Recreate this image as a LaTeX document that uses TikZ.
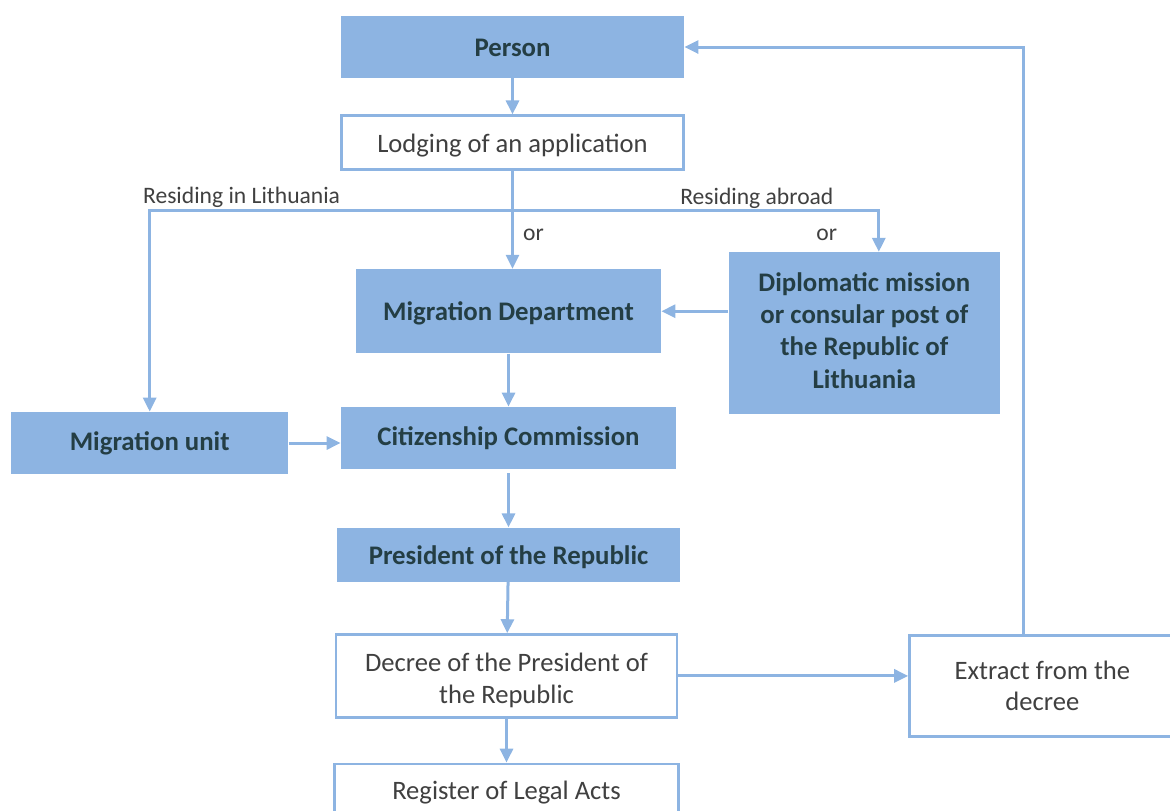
\documentclass[tikz,border=0pt]{standalone}
\usepackage{fontspec}
\setmainfont{Carlito}
\usepackage{tikz}
\usetikzlibrary{arrows.meta,positioning}
\definecolor{blu}{RGB}{141,180,226}
\definecolor{ink}{RGB}{64,64,64}
\definecolor{deep}{RGB}{36,62,68}
\tikzset{
  solid box/.style={fill=blu,draw=none,inner sep=2pt,align=center,text=deep,
    font=\fontsize{13.4}{16.2}\selectfont\bfseries},
  open box/.style={draw=blu,line width=1.2pt,fill=white,inner sep=2pt,align=center,text=ink,
    font=\fontsize{13.3}{15.8}\selectfont},
  lbl/.style={inner sep=1pt,text=ink,font=\fontsize{11.8}{14}\selectfont},
  arr/.style={-{Triangle[length=7pt,width=6.5pt]},line width=1.5pt,draw=blu},
}
\newcommand{\dn}[2]{\raisebox{-#1}[\height][\depth]{#2}}

\begin{document}
\begin{tikzpicture}[node distance=20pt]
\useasboundingbox (0,0) rectangle (585pt,-405pt);
\clip (0,0) rectangle (585pt,-405pt);
\node[solid box,minimum width=171.5pt,minimum height=31pt] (person) at (256.25pt,-23.5pt)
  {\dn{0.5pt}{Person}};
\node[open box,minimum width=171pt,minimum height=27pt,below=18pt of person] (lodging)
  {\dn{1.5pt}{Lodging of an application}};
\node[solid box,minimum width=152.5pt,minimum height=42pt,below=49pt of lodging,xshift=-2pt] (migdept)
  {\dn{1pt}{Migration Department}};
\node[solid box,minimum width=167.5pt,minimum height=31pt,below=26.5pt of migdept] (citizen)
  {\raisebox{1.5pt}{Citizenship Commission}};
\node[solid box,minimum width=138.5pt,minimum height=31pt,left=26pt of citizen,yshift=-2.5pt] (migunit)
  {Migration unit};
\node[solid box,minimum width=135.5pt,minimum height=81pt,right=33.5pt of migdept,yshift=-11pt] (dipl)
  {\begin{tabular}{@{}c@{}}Diplomatic mission\\or consular post of\\the Republic of\\Lithuania\end{tabular}};
\node[solid box,minimum width=171.5pt,minimum height=27pt,below=29pt of citizen] (president)
  {\dn{1pt}{President of the Republic}};
\node[open box,minimum width=170.5pt,minimum height=41.5pt,below=25.5pt of president,xshift=-1pt] (decree)
  {\dn{2.5pt}{\begin{tabular}{@{}c@{}}Decree of the President of\\the Republic\end{tabular}}};
\node[open box,minimum width=133pt,minimum height=50.5pt,right=115pt of decree,yshift=-5pt] (extract)
  {Extract from the\\decree};
\node[open box,minimum width=172pt,minimum height=26pt,below=22pt of decree,anchor=north] (register)
  {\dn{1.5pt}{Register of Legal Acts}};

\coordinate[below=20pt of lodging.south] (split);
\coordinate (dipin) at ([xshift=7.25pt]dipl.north);
\node[lbl,anchor=south west] (reslt) at ([xshift=-4.5pt,yshift=0.5pt]split -| migunit.north)
  {Residing in Lithuania};
\node[lbl,anchor=south east] (resab) at ([xshift=-21.5pt,yshift=0pt]split -| dipin)
  {Residing abroad};
\node[lbl] (or1) at ([xshift=10.5pt,yshift=-12pt]split) {or};
\node[lbl] (or2) at ([xshift=-26pt,yshift=-12pt]split -| dipin) {or};

\draw[arr] (person) -- (lodging);
\draw[line width=1.5pt,draw=blu] (lodging.south) -- (split);
\draw[arr] (split) -- (split |- migdept.north);
\draw[arr] (split) -| (migunit.north);
\draw[arr] (split) -| (dipin);
\draw[arr] (migdept.east -| dipl.west) -- (migdept.east);
\draw[arr] (migdept) -- (citizen);
\draw[arr] (migunit.east) -- (migunit.east -| citizen.west);
\draw[arr] ([yshift=-2pt]citizen.south) -- (president);
\draw[arr] (president) -- (decree);
\draw[arr] (decree) -- (register);
\draw[arr] (decree.east) -- (decree.east -| extract.west);
\draw[arr] ([xshift=-9.25pt]extract.north) |- (person.east);
\end{tikzpicture}
\end{document}
